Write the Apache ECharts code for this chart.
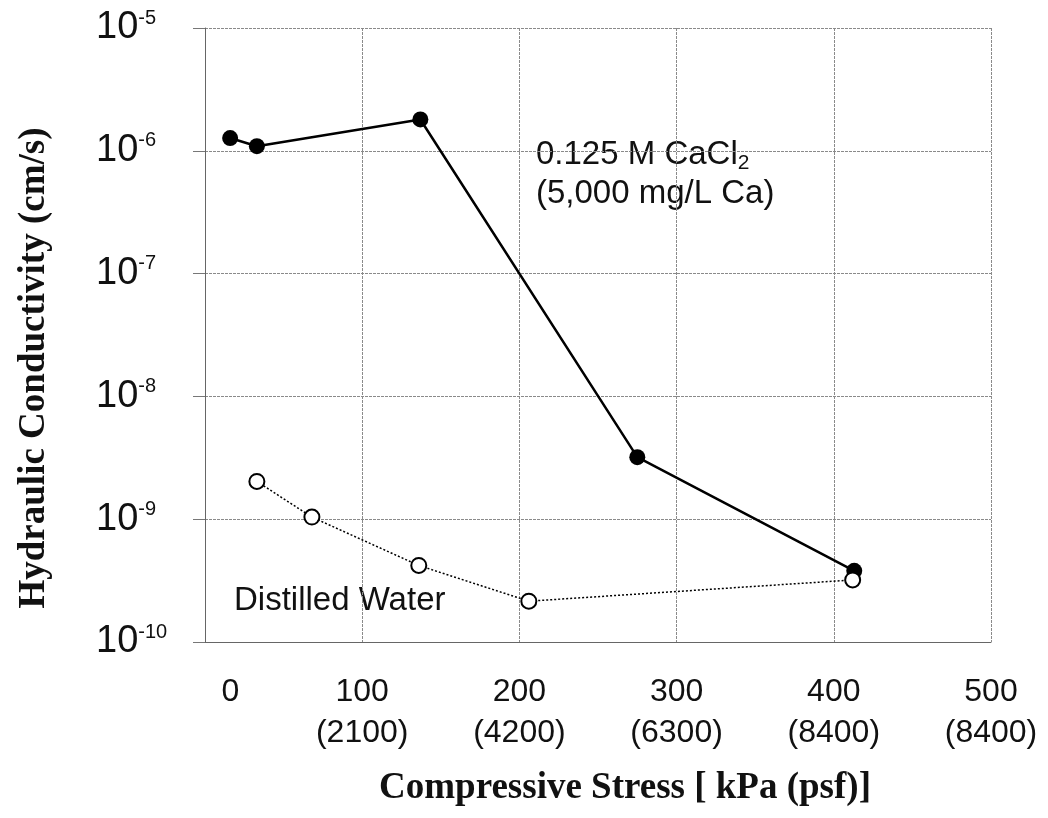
<!DOCTYPE html>
<html>
<head>
<meta charset="utf-8">
<script src="https://cdn.jsdelivr.net/npm/echarts@6/dist/echarts.min.js"></script>
<style>
  html, body { margin: 0; padding: 0; background: #fff; }
  #main { width: 1048px; height: 818px; }
</style>
</head>
<body>
<div id="main"></div>
<script>
// x ticks: kPa and psf
var kpaTicks = [0, 100, 200, 300, 400, 500];
var psfTicks = ['', '(2100)', '(4200)', '(6300)', '(8400)', '(8400)'];

// 0.125 M CaCl2
var cacl2Stress = [16, 33, 137, 275, 413];
var cacl2K = [1.27e-6, 1.09e-6, 1.8e-6, 3.2e-9, 3.8e-10];

// distilled water
var waterStress = [33, 68, 136, 206, 412];
var waterK = [2.03e-9, 1.04e-9, 4.2e-10, 2.15e-10, 3.2e-10];

function pairs(xs, ys) {
    var out = [];
    for (var i = 0; i < xs.length; i++) out.push([xs[i], ys[i]]);
    return out;
}

var chart = echarts.init(document.getElementById('main'));
var gridColor = '#8a8a8a';
var sans = 'Liberation Sans';

var option = {
    backgroundColor: '#fff',
    animation: false,
    grid: { left: 205, right: 57, top: 28, bottom: 176 },
    xAxis: {
        type: 'value',
        min: 0, max: 500, interval: 100,
        axisLine: { show: true, lineStyle: { color: '#666', width: 1 } },
        axisTick: { show: false },
        splitLine: { show: true, lineStyle: { color: gridColor, type: [3, 1], width: 1 } },
        axisLabel: {
            margin: 30,
            color: '#111',
            fontFamily: sans,
            fontSize: 32,
            lineHeight: 41,
            formatter: function (v) {
                var i = kpaTicks.indexOf(v);
                if (v === 0) return '{z|0}\n{z| }';
                return v + '\n' + psfTicks[i];
            },
            rich: {
                z: { fontSize: 32, fontFamily: sans, color: '#111', lineHeight: 41, padding: [0, 0, 0, 51] }
            }
        },
        name: 'Compressive Stress [ kPa (psf)]',
        nameLocation: 'middle',
        nameGap: 128,
        nameTextStyle: {
            fontFamily: 'Liberation Serif', fontWeight: 'bold', fontSize: 37, color: '#111',
            padding: [0, 0, 0, 54]
        }
    },
    yAxis: {
        type: 'log',
        logBase: 10,
        min: 1e-10, max: 1e-5,
        axisLine: { show: true, lineStyle: { color: '#666', width: 1 } },
        axisTick: { show: true, length: 12, lineStyle: { color: '#777' } },
        splitLine: { show: true, lineStyle: { color: gridColor, type: [3, 1], width: 1 } },
        axisLabel: {
            margin: 109,
            align: 'left',
            formatter: function (v) {
                var e = Math.round(Math.log10(v));
                return '{b|10}{s|' + e + '}';
            },
            rich: {
                b: { fontSize: 38, fontFamily: sans, color: '#111', lineHeight: 40 },
                s: { fontSize: 20, fontFamily: sans, color: '#111', verticalAlign: 'top', lineHeight: 40 }
            }
        },
        name: 'Hydraulic Conductivity (cm/s)',
        nameLocation: 'middle',
        nameGap: 152,
        nameTextStyle: {
            fontFamily: 'Liberation Serif', fontWeight: 'bold', fontSize: 37, color: '#111',
            padding: [0, 66, 0, 0]
        }
    },
    series: [
        {
            name: '0.125 M CaCl2',
            type: 'line',
            data: pairs(cacl2Stress, cacl2K),
            symbol: 'circle',
            symbolSize: 16,
            itemStyle: { color: '#000' },
            lineStyle: { color: '#000', width: 2.5 },
            z: 3
        },
        {
            name: 'Distilled Water',
            type: 'line',
            data: pairs(waterStress, waterK),
            symbol: 'circle',
            symbolSize: 15,
            itemStyle: { color: '#fff', borderColor: '#000', borderWidth: 2 },
            lineStyle: { color: '#000', width: 1.5, type: [2, 2] },
            z: 4
        }
    ],
    graphic: [
        {
            type: 'text',
            left: 536, top: 135,
            style: {
                text: '0.125 M CaCl{sub|2}\n(5,000 mg/L Ca)',
                fontFamily: sans,
                fontSize: 33,
                lineHeight: 39,
                fill: '#111',
                rich: {
                    sub: { fontSize: 21, fontFamily: sans, fill: '#111', verticalAlign: 'bottom', lineHeight: 39, padding: [10, 0, 0, 0] }
                }
            }
        },
        {
            type: 'text',
            left: 234, top: 581,
            style: {
                text: 'Distilled Water',
                fontFamily: sans,
                fontSize: 33,
                lineHeight: 39,
                fill: '#111'
            }
        }
    ]
};

chart.setOption(option);
</script>
</body>
</html>
